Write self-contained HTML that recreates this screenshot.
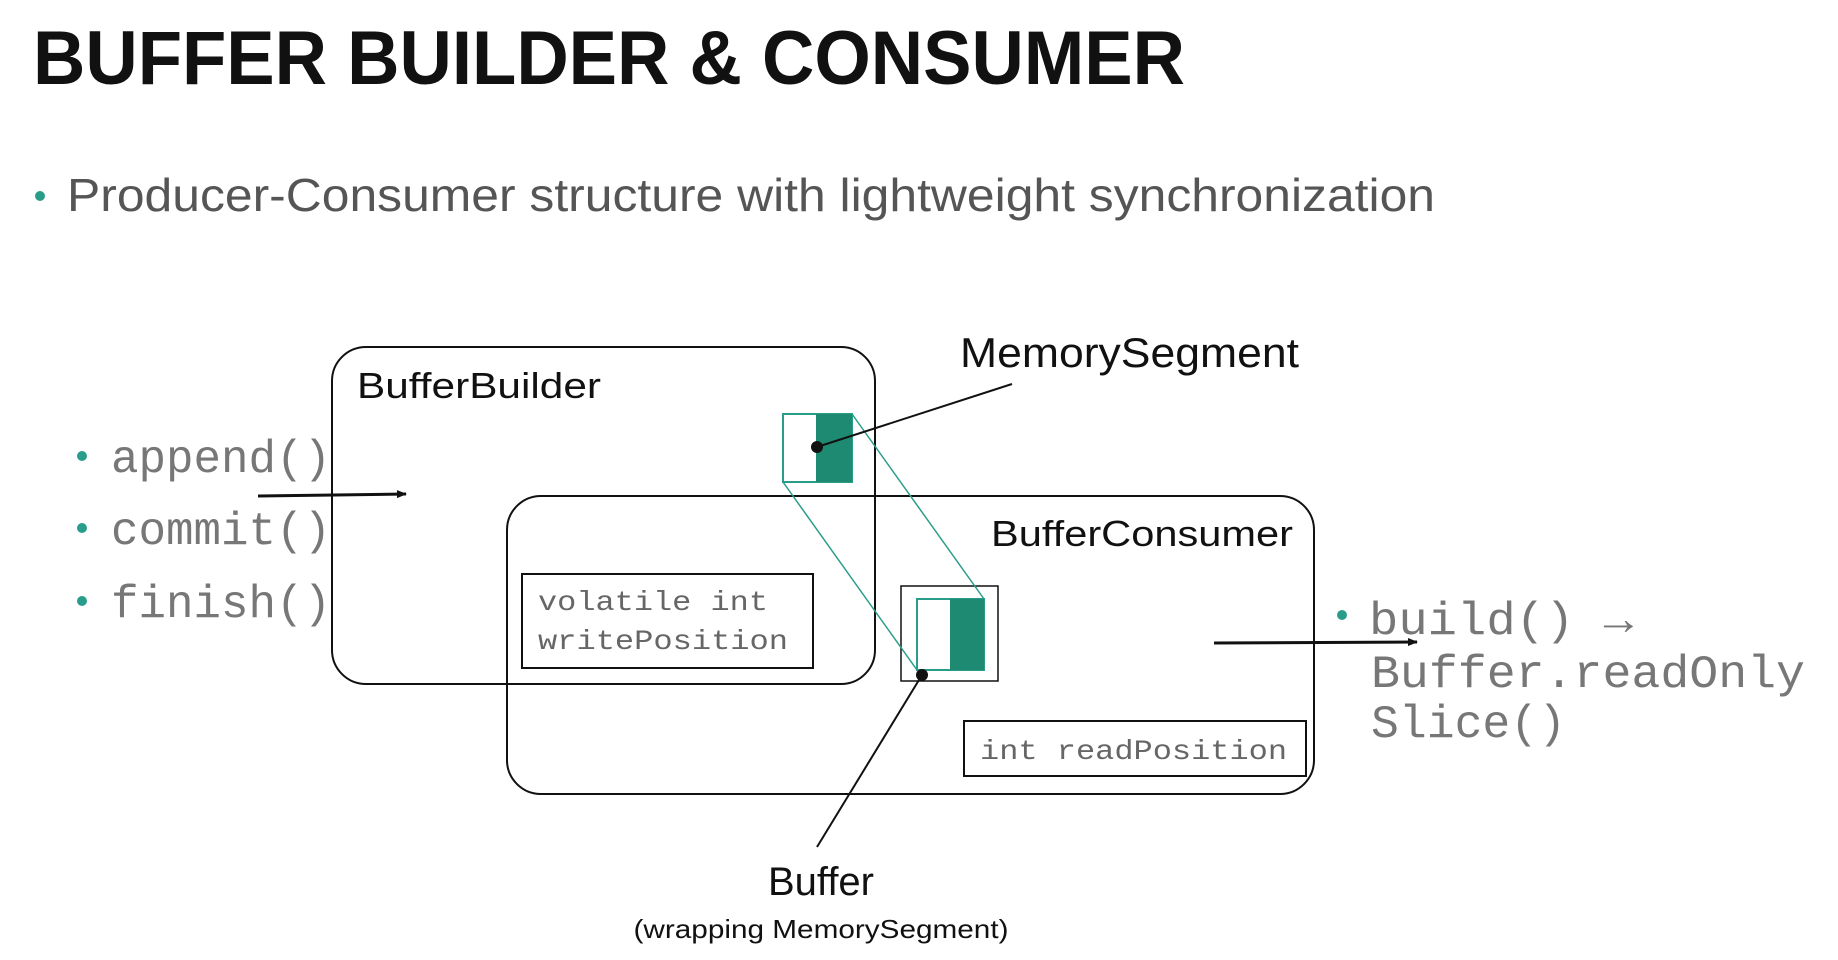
<!DOCTYPE html>
<html><head><meta charset="utf-8"><style>
html,body{margin:0;padding:0;background:#fff;width:1838px;height:960px;overflow:hidden}
svg{display:block}
.s{font-family:"Liberation Sans",sans-serif}
.m{font-family:"Liberation Mono",monospace}
</style></head><body>
<svg width="1838" height="960" viewBox="0 0 1838 960" xmlns="http://www.w3.org/2000/svg">
<defs><marker id="ah" markerWidth="10" markerHeight="8" refX="9" refY="4" orient="auto" markerUnits="userSpaceOnUse"><path d="M0,0 L10,4 L0,8z" fill="#111"/></marker></defs>
<text class="s" x="33" y="84" font-size="76" font-weight="bold" fill="#111" textLength="1152" lengthAdjust="spacingAndGlyphs">BUFFER BUILDER &amp; CONSUMER</text>
<circle cx="40" cy="196" r="5" fill="#2a9d8a"/>
<text class="s" x="67" y="211" font-size="46" fill="#555" textLength="1368" lengthAdjust="spacingAndGlyphs">Producer-Consumer structure with lightweight synchronization</text>

<g transform="translate(-5,-3)">
<rect x="337" y="350" width="543" height="337" rx="34" fill="none" stroke="#111" stroke-width="2"/>
<rect x="512" y="499" width="807" height="298" rx="34" fill="none" stroke="#111" stroke-width="2"/>
<text class="s" x="362" y="401" font-size="36" fill="#111" textLength="244" lengthAdjust="spacingAndGlyphs">BufferBuilder</text>
<text class="s" x="996" y="549" font-size="36" fill="#111" textLength="302" lengthAdjust="spacingAndGlyphs">BufferConsumer</text>

<rect x="527" y="577" width="291" height="94" fill="#fff" stroke="#111" stroke-width="2"/>
<text class="m" x="543" y="613" font-size="28" fill="#666" textLength="230" lengthAdjust="spacingAndGlyphs">volatile int</text>
<text class="m" x="543" y="652" font-size="28" fill="#666" textLength="250" lengthAdjust="spacingAndGlyphs">writePosition</text>
<rect x="969" y="724" width="342" height="55" fill="#fff" stroke="#111" stroke-width="2"/>
<text class="m" x="985" y="762" font-size="28" fill="#666" textLength="307" lengthAdjust="spacingAndGlyphs">int readPosition</text>

<rect x="906" y="589" width="97" height="95" fill="#fff" stroke="#111" stroke-width="1.5"/>
<rect x="922" y="602" width="67" height="71" fill="#fff" stroke="#2a9d8a" stroke-width="2"/>
<rect x="955" y="602" width="34" height="71" fill="#1f8a72"/>
<rect x="788" y="417" width="69" height="68" fill="#fff" stroke="#2a9d8a" stroke-width="2"/>
<rect x="821" y="417" width="36" height="68" fill="#1f8a72"/>
<line x1="788" y1="485" x2="922" y2="673" stroke="#2a9d8a" stroke-width="1.5"/>
<line x1="857" y1="417" x2="989" y2="602" stroke="#2a9d8a" stroke-width="1.5"/>

<line x1="822" y1="450" x2="1017" y2="387" stroke="#111" stroke-width="2"/>
<circle cx="822" cy="450" r="6" fill="#111"/>
<text class="s" x="965" y="370" font-size="42" fill="#111" textLength="339" lengthAdjust="spacingAndGlyphs">MemorySegment</text>
<line x1="927" y1="678" x2="822" y2="850" stroke="#111" stroke-width="2"/>
<circle cx="927" cy="678" r="6" fill="#111"/>
<text class="s" x="826" y="898" font-size="40" fill="#111" text-anchor="middle">Buffer</text>
<text class="s" x="826" y="941" font-size="26" fill="#111" text-anchor="middle" textLength="375" lengthAdjust="spacingAndGlyphs">(wrapping MemorySegment)</text>
<line x1="263" y1="499" x2="411" y2="497" stroke="#111" stroke-width="3" marker-end="url(#ah)"/>
<line x1="1219" y1="646" x2="1422" y2="645" stroke="#111" stroke-width="3" marker-end="url(#ah)"/>
</g>

<g class="m" font-size="46" fill="#777">
<circle cx="82" cy="456" r="5" fill="#2a9d8a"/>
<text x="111" y="472" textLength="220" lengthAdjust="spacingAndGlyphs">append()</text>
<circle cx="82" cy="528" r="5" fill="#2a9d8a"/>
<text x="111" y="544" textLength="220" lengthAdjust="spacingAndGlyphs">commit()</text>
<circle cx="82" cy="601" r="5" fill="#2a9d8a"/>
<text x="111" y="617" textLength="220" lengthAdjust="spacingAndGlyphs">finish()</text>
<circle cx="1342" cy="615" r="5" fill="#2a9d8a"/>
<text x="1369" y="634" textLength="264" lengthAdjust="spacingAndGlyphs">build() →</text>
<text x="1371" y="687" textLength="434" lengthAdjust="spacingAndGlyphs">Buffer.readOnly</text>
<text x="1371" y="737" textLength="195" lengthAdjust="spacingAndGlyphs">Slice()</text>
</g>
</svg>
</body></html>
